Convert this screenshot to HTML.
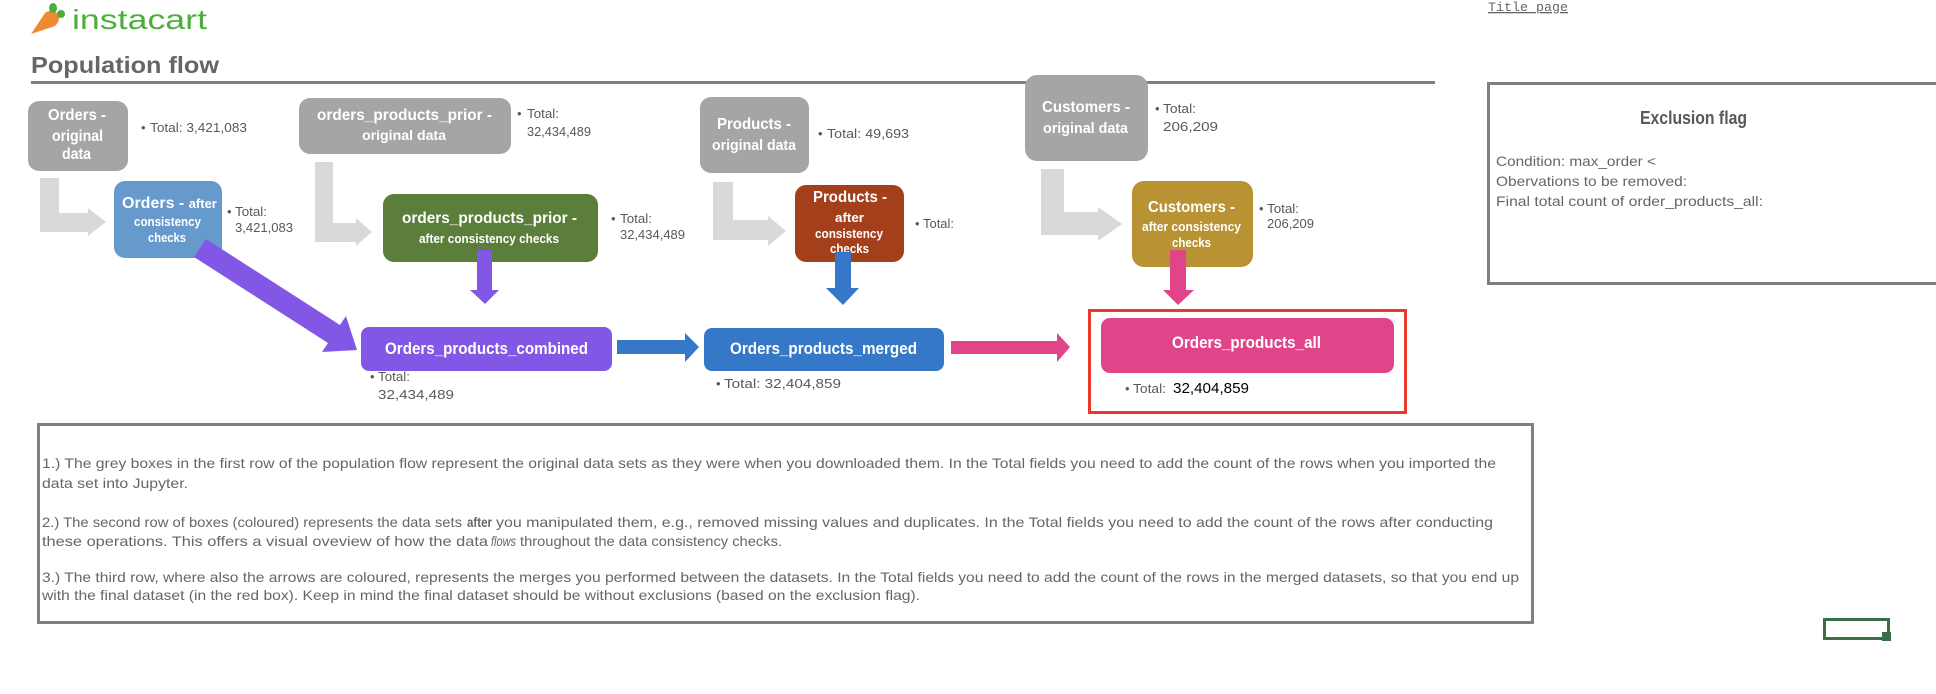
<!DOCTYPE html>
<html><head><meta charset="utf-8"><style>
html,body{margin:0;padding:0;background:#fff;width:1936px;height:694px;overflow:hidden}
svg{display:block}
text{font-family:"Liberation Sans",sans-serif}
.w{fill:#fff;font-weight:bold}
.t{fill:#595959;font-size:13px}
.p{fill:#666;font-size:14px}
</style></head><body>
<svg width="1936" height="694" viewBox="0 0 1936 694" xmlns="http://www.w3.org/2000/svg">
<!-- logo -->
<path d="M31,34 L45,13 Q52,8 58,14 Q61,20 55,26 Z" fill="#f08a32"/>
<ellipse cx="53" cy="8" rx="4" ry="5" fill="#4caf3c"/>
<ellipse cx="61" cy="14" rx="4" ry="4" fill="#4caf3c"/>
<text x="72" y="29" font-size="28" fill="#4caf3c" textLength="135" lengthAdjust="spacingAndGlyphs">instacart</text>
<text x="1488" y="11" font-size="13" fill="#666" text-decoration="underline" textLength="80" lengthAdjust="spacingAndGlyphs" style="font-family:'Liberation Mono',monospace">Title page</text>
<text x="31" y="73" font-size="23" font-weight="bold" fill="#666" textLength="188" lengthAdjust="spacingAndGlyphs">Population flow</text>
<rect x="31" y="81" width="1404" height="3" fill="#7f7f7f"/>

<!-- exclusion box -->
<rect x="1488.5" y="83.5" width="460" height="200" fill="none" stroke="#7f7f7f" stroke-width="3"/>
<text x="1640" y="124" font-size="18" font-weight="bold" fill="#595959" textLength="107" lengthAdjust="spacingAndGlyphs">Exclusion flag</text>
<text x="1496" y="166" class="p" textLength="160" lengthAdjust="spacingAndGlyphs">Condition: max_order &lt;</text>
<text x="1496" y="186" class="p" textLength="191" lengthAdjust="spacingAndGlyphs">Obervations to be removed:</text>
<text x="1496" y="206" class="p" textLength="267" lengthAdjust="spacingAndGlyphs">Final total count of order_products_all:</text>

<!-- grey bent arrows -->
<g fill="#d9d9d9">
<polygon points="40,178 59,178 59,213 88,213 88,208 106,222 88,236 88,232 40,232"/>
<polygon points="315,162 333,162 333,223 356,223 356,218 372,232 356,246 356,242 315,242"/>
<polygon points="713,182 733,182 733,220 768,220 768,216 786,231 768,246 768,240 713,240"/>
<polygon points="1041,169 1064,169 1064,212 1098,212 1098,207 1122,224 1098,241 1098,235 1041,235"/>
</g>

<!-- row1 grey -->
<rect x="28" y="101" width="100" height="70" rx="11" fill="#a5a5a5"/>
<text x="48" y="120" class="w" font-size="16" textLength="58" lengthAdjust="spacingAndGlyphs">Orders -</text>
<text x="52" y="141" class="w" font-size="16" textLength="51" lengthAdjust="spacingAndGlyphs">original</text>
<text x="62" y="159" class="w" font-size="16" textLength="29" lengthAdjust="spacingAndGlyphs">data</text>
<text x="141" y="132" class="t">•</text><text x="150" y="132" class="t" textLength="97" lengthAdjust="spacingAndGlyphs">Total:  3,421,083</text>

<rect x="299" y="98" width="212" height="56" rx="11" fill="#a5a5a5"/>
<text x="317" y="120" class="w" font-size="16" textLength="175" lengthAdjust="spacingAndGlyphs">orders_products_prior -</text>
<text x="362" y="140" class="w" font-size="14" textLength="84" lengthAdjust="spacingAndGlyphs">original data</text>
<text x="517" y="118" class="t">•</text><text x="527" y="118" class="t" textLength="32" lengthAdjust="spacingAndGlyphs">Total:</text>
<text x="527" y="136" class="t" textLength="64" lengthAdjust="spacingAndGlyphs">32,434,489</text>

<rect x="700" y="97" width="109" height="76" rx="11" fill="#a5a5a5"/>
<text x="717" y="129" class="w" font-size="16" textLength="74" lengthAdjust="spacingAndGlyphs">Products -</text>
<text x="712" y="150" class="w" font-size="15" textLength="84" lengthAdjust="spacingAndGlyphs">original data</text>
<text x="818" y="138" class="t">•</text><text x="827" y="138" class="t" font-size="14" textLength="82" lengthAdjust="spacingAndGlyphs">Total: 49,693</text>

<rect x="1025" y="75" width="123" height="86" rx="12" fill="#a5a5a5"/>
<text x="1042" y="112" class="w" font-size="16" textLength="88" lengthAdjust="spacingAndGlyphs">Customers -</text>
<text x="1043" y="133" class="w" font-size="15" textLength="85" lengthAdjust="spacingAndGlyphs">original data</text>
<text x="1155" y="113" class="t">•</text><text x="1163" y="113" class="t" textLength="33" lengthAdjust="spacingAndGlyphs">Total:</text>
<text x="1163" y="131" class="t" font-size="14" textLength="55" lengthAdjust="spacingAndGlyphs">206,209</text>

<!-- row2 -->
<rect x="114" y="181" width="108" height="77" rx="11" fill="#6699cc"/>
<text x="122" y="208" class="w" font-size="16"><tspan>Orders - </tspan><tspan font-size="13">after</tspan></text>
<text x="134" y="226" class="w" font-size="13" textLength="67" lengthAdjust="spacingAndGlyphs">consistency</text>
<text x="148" y="242" class="w" font-size="13" textLength="38" lengthAdjust="spacingAndGlyphs">checks</text>
<text x="227" y="216" class="t">•</text><text x="235" y="216" class="t" textLength="32" lengthAdjust="spacingAndGlyphs">Total:</text>
<text x="235" y="232" class="t" textLength="58" lengthAdjust="spacingAndGlyphs">3,421,083</text>

<rect x="383" y="194" width="215" height="68" rx="11" fill="#5b7f3b"/>
<text x="402" y="223" class="w" font-size="16" textLength="175" lengthAdjust="spacingAndGlyphs">orders_products_prior -</text>
<text x="419" y="243" class="w" font-size="13" textLength="140" lengthAdjust="spacingAndGlyphs">after consistency checks</text>
<text x="611" y="223" class="t">•</text><text x="620" y="223" class="t" textLength="32" lengthAdjust="spacingAndGlyphs">Total:</text>
<text x="620" y="239" class="t" textLength="65" lengthAdjust="spacingAndGlyphs">32,434,489</text>

<rect x="795" y="185" width="109" height="77" rx="11" fill="#a33f1b"/>
<text x="813" y="202" class="w" font-size="16" textLength="74" lengthAdjust="spacingAndGlyphs">Products -</text>
<text x="835" y="222" class="w" font-size="13" textLength="29" lengthAdjust="spacingAndGlyphs">after</text>
<text x="815" y="238" class="w" font-size="13" textLength="68" lengthAdjust="spacingAndGlyphs">consistency</text>
<text x="830" y="253" class="w" font-size="13" textLength="39" lengthAdjust="spacingAndGlyphs">checks</text>
<text x="915" y="228" class="t">•</text><text x="923" y="228" class="t" textLength="31" lengthAdjust="spacingAndGlyphs">Total:</text>

<rect x="1132" y="181" width="121" height="86" rx="12" fill="#b89233"/>
<text x="1148" y="212" class="w" font-size="16" textLength="87" lengthAdjust="spacingAndGlyphs">Customers -</text>
<text x="1142" y="231" class="w" font-size="13" textLength="99" lengthAdjust="spacingAndGlyphs">after consistency</text>
<text x="1172" y="247" class="w" font-size="13" textLength="39" lengthAdjust="spacingAndGlyphs">checks</text>
<text x="1259" y="213" class="t">•</text><text x="1267" y="213" class="t" textLength="32" lengthAdjust="spacingAndGlyphs">Total:</text>
<text x="1267" y="228" class="t" textLength="47" lengthAdjust="spacingAndGlyphs">206,209</text>

<!-- coloured arrows -->
<polygon points="206,239 340,325 346,316 357,350 322,352 328,343 194,257" fill="#8257e5"/>
<polygon points="477,250 492,250 492,290 499,290 485,304 470,290 477,290" fill="#8257e5"/>
<polygon points="835,252 851,252 851,288 859,288 843,305 826,288 835,288" fill="#3578c8"/>
<polygon points="1170,250 1186,250 1186,290 1194,290 1178,305 1163,290 1170,290" fill="#e0458a"/>
<polygon points="617,340 685,340 685,333 699,347 685,362 685,354 617,354" fill="#3578c8"/>
<polygon points="951,341 1057,341 1057,333 1070,347 1057,362 1057,354 951,354" fill="#e0458a"/>

<!-- row3 -->
<rect x="361" y="327" width="251" height="44" rx="8" fill="#8257e5"/>
<text x="385" y="354" class="w" font-size="17" textLength="203" lengthAdjust="spacingAndGlyphs">Orders_products_combined</text>
<text x="370" y="381" class="t">•</text><text x="378" y="381" class="t" textLength="32" lengthAdjust="spacingAndGlyphs">Total:</text>
<text x="378" y="399" class="t" font-size="14" textLength="76" lengthAdjust="spacingAndGlyphs">32,434,489</text>

<rect x="704" y="328" width="240" height="43" rx="8" fill="#3578c8"/>
<text x="730" y="354" class="w" font-size="17" textLength="187" lengthAdjust="spacingAndGlyphs">Orders_products_merged</text>
<text x="716" y="388" class="t">•</text><text x="724" y="388" class="t" font-size="14" textLength="117" lengthAdjust="spacingAndGlyphs">Total:  32,404,859</text>

<rect x="1089.5" y="310.5" width="316" height="102" fill="none" stroke="#e8392b" stroke-width="3"/>
<rect x="1101" y="318" width="293" height="55" rx="9" fill="#e0458a"/>
<text x="1172" y="348" class="w" font-size="17" textLength="149" lengthAdjust="spacingAndGlyphs">Orders_products_all</text>
<text x="1125" y="393" class="t">•</text><text x="1133" y="393" class="t" textLength="33" lengthAdjust="spacingAndGlyphs">Total:</text>
<text x="1173" y="393" font-size="15" fill="#000" textLength="76" lengthAdjust="spacingAndGlyphs">32,404,859</text>

<!-- notes box -->
<rect x="38.5" y="424.5" width="1494" height="198" fill="none" stroke="#808080" stroke-width="3"/>
<text x="42" y="468" class="p" textLength="1454" lengthAdjust="spacingAndGlyphs">1.) The grey boxes in the first row of the population flow represent the original data sets as they were when you downloaded them. In the Total fields you need to add the count of the rows when you imported the</text>
<text x="42" y="488" class="p" textLength="146" lengthAdjust="spacingAndGlyphs">data set into Jupyter.</text>
<text x="42" y="527" class="p" textLength="420" lengthAdjust="spacingAndGlyphs">2.) The second row of boxes (coloured) represents the data sets</text>
<text x="467" y="527" class="p" font-weight="bold" textLength="25" lengthAdjust="spacingAndGlyphs">after</text>
<text x="496" y="527" class="p" textLength="997" lengthAdjust="spacingAndGlyphs">you manipulated them, e.g., removed missing values and duplicates. In the Total fields you need to add the count of the rows after conducting</text>
<text x="42" y="546" class="p" textLength="446" lengthAdjust="spacingAndGlyphs">these operations. This offers a visual oveview of how the data</text>
<text x="491" y="546" class="p" font-style="italic" textLength="25" lengthAdjust="spacingAndGlyphs">flows</text>
<text x="520" y="546" class="p" textLength="262" lengthAdjust="spacingAndGlyphs">throughout the data consistency checks.</text>
<text x="42" y="582" class="p" textLength="1477" lengthAdjust="spacingAndGlyphs">3.) The third row, where also the arrows are coloured, represents the merges you performed between the datasets. In the Total fields you need to add the count of the rows in the merged datasets, so that you end up</text>
<text x="42" y="600" class="p" textLength="878" lengthAdjust="spacingAndGlyphs">with the final dataset (in the red box). Keep in mind the final dataset should be without exclusions (based on the exclusion flag).</text>

<!-- green widget -->
<rect x="1824.5" y="619.5" width="64" height="19" fill="none" stroke="#3a6e45" stroke-width="3"/>
<rect x="1882" y="632" width="9" height="9" fill="#3a6e45"/>
</svg>
</body></html>
